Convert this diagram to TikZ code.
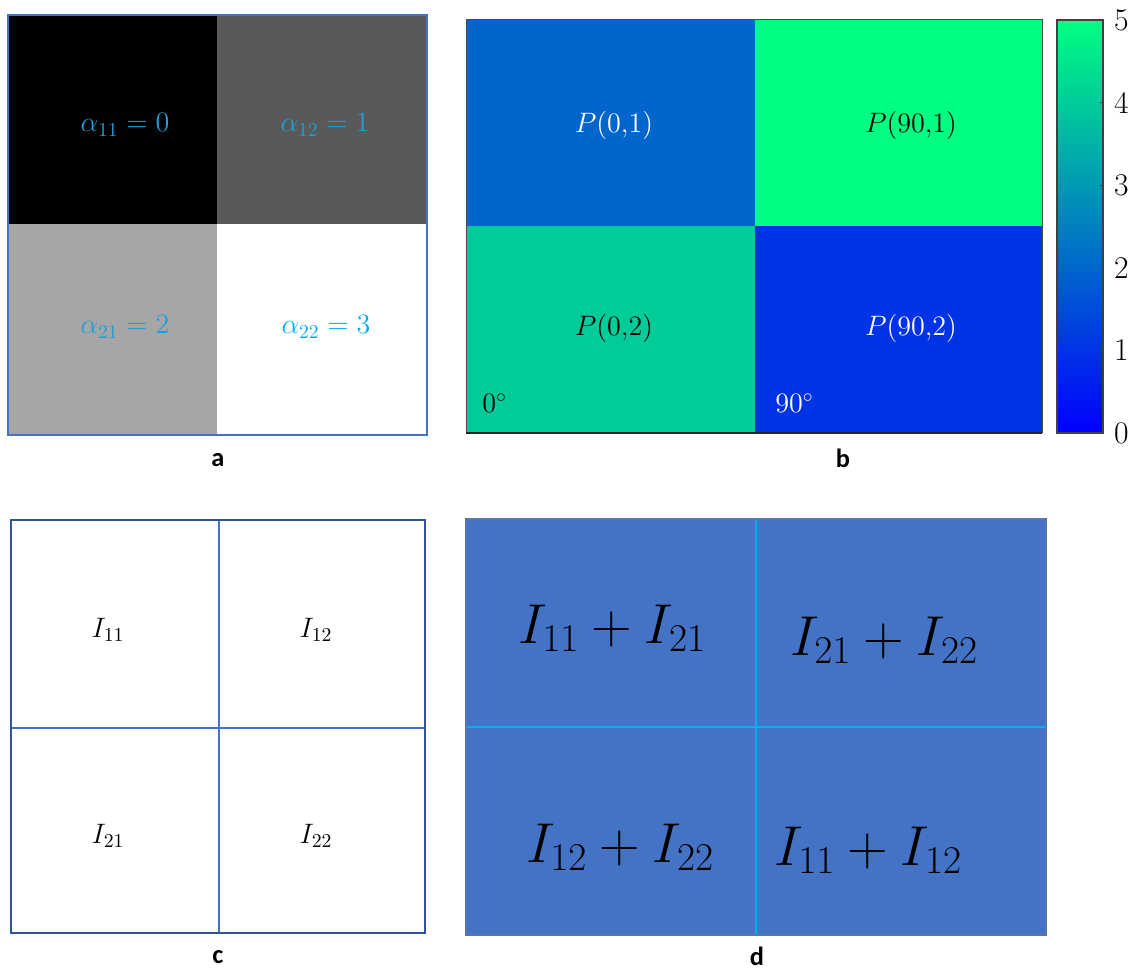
\RequirePackage{fix-cm}
\documentclass[tikz,border=0pt]{standalone}
\usepackage{mathtools}
\usepackage{fontspec}
\newfontfamily\panelfont{Carlito}
\definecolor{frameblue}{HTML}{4472C4}
\definecolor{darkframe}{HTML}{2F5597}
\definecolor{alphablue}{HTML}{1E9FDC}
\definecolor{cellcyan}{HTML}{00B0F0}
\definecolor{grayB}{HTML}{595959}
\definecolor{grayC}{HTML}{A6A6A6}
\definecolor{winterA}{RGB}{0,0,255}
\definecolor{winterB}{RGB}{0,255,128}
\definecolor{wintI}{RGB}{0,51,230}
\definecolor{wintII}{RGB}{0,102,204}
\definecolor{wintIV}{RGB}{0,204,153}

\begin{document}
\begin{tikzpicture}[x=0.02cm, y=-0.02cm,
    alphatext/.style={text=alphablue, font=\fontsize{16}{18}\selectfont},
    ptext/.style={font=\fontsize{16}{18}\selectfont},
    itext/.style={font=\fontsize{16}{18}\selectfont},
    sumtext/.style={font=\fontsize{32}{36}\selectfont},
    tick/.style={font=\fontsize{18}{20}\selectfont, anchor=west},
    panel/.style={font=\panelfont\bfseries\fontsize{15}{17}\selectfont}]
    \useasboundingbox (0,0) rectangle (1147,975);

    % a
    \fill [black] (8,15) rectangle (217,224);
    \fill [grayB] (217,15) rectangle (427,224);
    \fill [grayC] (8,224) rectangle (217,435);
    \draw [frameblue, line width=1.2pt] (8,15) rectangle (427,435);
    \node [alphatext] (a11) at (125,125) {$\alpha_{11}=0$};
    \node [alphatext] (a12) at (325,125) {$\alpha_{12}=1$};
    \node [alphatext] (a21) at (125,327) {$\alpha_{21}=2$};
    \node [alphatext, text=cellcyan] (a22) at (326,327) {$\alpha_{22}=3$};
    \node [panel] (la) at (218,460) {a};

    % b
    \fill [wintII] (466,19) rectangle (755,226);
    \fill [winterB] (755,19) rectangle (1042,226);
    \fill [wintIV] (466,226) rectangle (755,433);
    \fill [wintI] (755,226) rectangle (1042,433);
    \draw [black!70, line width=0.4pt] (466,433) -- (466,19) -- (1042,19) -- (1042,433);
    \draw [black!85, line width=1.2pt] (466,433) -- (1042,433);
    \node [ptext, text=white] (p01) at (614,125) {$P(0{,}1)$};
    \node [ptext] (p901) at (911,125) {$P(90{,}1)$};
    \node [ptext] (p02) at (614,328) {$P(0{,}2)$};
    \node [ptext, text=white] (p902) at (911,328) {$P(90{,}2)$};
    \node [ptext, anchor=west, inner sep=0pt] (deg0) at (482,403) {$0^\circ$};
    \node [ptext, text=white, anchor=west, inner sep=0pt] (deg90) at (775,403) {$90^\circ$};
    %\draw (755,19) -- (755,433);

    % colorbar
    \shade [bottom color=winterA, top color=winterB] (1057,20) rectangle (1103,433);
    \draw [black!75, line width=0.6pt] (1057,20) rectangle (1103,433);
    \foreach \v in {0,...,5} {
        \draw [black!75] (1100,433-82.6*\v) -- (1103,433-82.6*\v);
        \node [tick] (t\v) at (1108,433-82.6*\v) {\v};
    }
    \node [panel] (lb) at (843,458) {b};

    % c
    \draw [frameblue, line width=0.6pt] (11,728) -- (425,728);
    \draw [frameblue, line width=0.6pt] (219,520) -- (219,933);
    \draw [darkframe, line width=1.2pt] (11,520) rectangle (425,933);
    \node [itext] (i11) at (108,630) {$I_{11}$};
    \node [itext] (i12) at (316,630) {$I_{12}$};
    \node [itext] (i21) at (108,836) {$I_{21}$};
    \node [itext] (i22) at (316,836) {$I_{22}$};
    \node [panel] (lc) at (218,957) {c};

    % d
    \fill [frameblue] (466,519) rectangle (1046,935);
    \draw [cellcyan, line width=1pt] (466,727) -- (1046,727);
    \draw [cellcyan, line width=1pt] (756,519) -- (756,935);
    \draw [darkframe!80, line width=0.8pt] (466,519) rectangle (1046,935);
    \node [sumtext] (s1) at (612,628) {$I_{11}+I_{21}$};
    \node [sumtext] (s2) at (884,640) {$I_{21}+I_{22}$};
    \node [sumtext] (s3) at (620,847) {$I_{12}+I_{22}$};
    \node [sumtext] (s4) at (868,850) {$I_{11}+I_{12}$};
    \node [panel] (ld) at (757,956) {d};
\end{tikzpicture}
\end{document}
